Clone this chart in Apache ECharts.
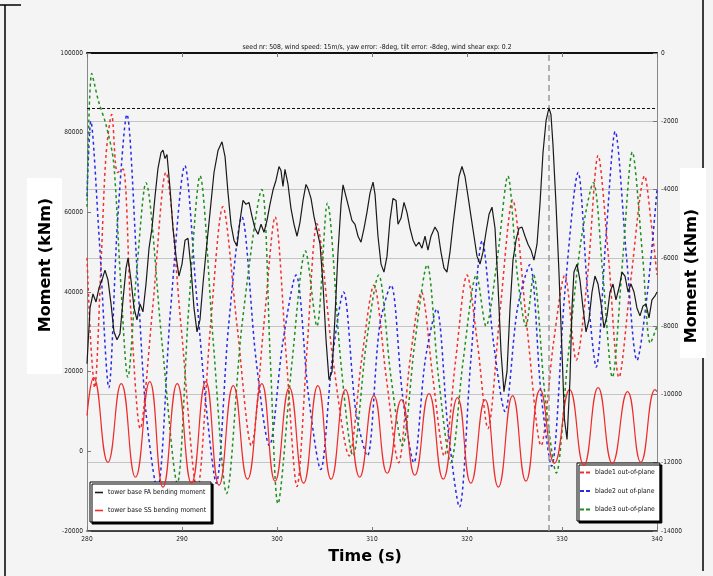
<!DOCTYPE html>
<html>
<head>
<meta charset="utf-8">
<script src="https://cdn.jsdelivr.net/npm/echarts@6/dist/echarts.min.js"></script>
<style>
  html, body { margin: 0; padding: 0; background: #f4f4f4; }
  #chart { width: 713px; height: 576px; }
</style>
</head>
<body>
<div id="chart"></div>
<script>
// Simulation case shown in the title
const caseTitle = 'seed nr: 508, wind speed: 15m/s, yaw error: -8deg, tilt error: -8deg, wind shear exp: 0.2';

// Axis ranges / ticks
const timeTicks = [280, 290, 300, 310, 320, 330, 340];
const towerTicks = [-20000, 0, 20000, 40000, 60000, 80000, 100000];
const bladeTicks = [-14000, -12000, -10000, -8000, -6000, -4000, -2000, 0];

// Series names
const towerNames = ['tower base FA bending moment', 'tower base SS bending moment'];
const bladeNames = ['blade1 out-of-plane', 'blade2 out of-plane', 'blade3 out-of-plane'];

// Tower base fore-aft bending moment [time s, kNm]
const towerFA = [
  [280.00,22000],[280.32,36000],[280.63,39500],[280.95,37500],[281.26,41000],[281.58,43000],[281.89,45500],
  [282.21,43000],[282.53,37000],[282.84,30000],[283.16,28000],[283.47,29500],[283.79,38000],[284.11,46000],
  [284.32,48500],[284.63,43000],[284.95,36000],[285.26,33000],[285.58,37000],[285.89,35000],[286.21,42000],
  [286.53,51000],[286.84,56000],[287.16,64000],[287.47,71000],[287.79,75000],[288.00,75600],[288.21,73500],
  [288.42,74500],[288.74,66000],[289.05,56000],[289.37,49000],[289.68,44000],[290.00,47000],[290.32,53000],
  [290.63,53500],[290.95,46000],[291.26,36000],[291.58,30000],[291.89,33000],[292.21,42000],[292.53,50000],
  [292.95,60000],[293.37,70000],[293.79,75500],[294.21,77700],[294.53,74000],[294.84,65000],[295.16,57000],
  [295.47,53000],[295.79,51500],[296.11,58000],[296.42,63000],[296.74,62000],[297.05,62500],[297.37,59000],
  [297.68,56000],[298.00,54500],[298.32,57000],[298.63,55000],[298.95,58000],[299.26,62000],[299.58,65600],
  [299.89,68000],[300.21,71500],[300.42,70500],[300.63,66500],[300.84,70800],[301.16,67000],[301.47,61000],
  [301.79,57000],[302.11,54000],[302.42,57500],[302.74,63000],[303.05,67000],[303.26,66000],[303.58,63500],
  [303.89,59000],[304.21,55500],[304.53,52000],[304.84,42000],[305.16,28000],[305.47,18000],[305.79,20000],
  [306.11,34000],[306.42,50000],[306.74,62000],[306.95,66900],[307.26,64000],[307.58,61000],[307.89,58000],
  [308.21,57000],[308.53,54000],[308.84,52500],[309.16,56000],[309.47,60000],[309.79,64800],[310.11,67600],
  [310.32,64500],[310.63,54000],[310.95,47000],[311.26,45000],[311.58,49000],[311.89,58000],[312.21,63500],
  [312.53,63000],[312.74,57000],[313.05,58500],[313.37,62500],[313.68,60000],[314.00,56000],[314.32,53000],
  [314.63,51500],[314.95,52500],[315.26,51000],[315.58,54000],[315.89,50500],[316.21,54000],[316.63,56300],
  [316.95,55000],[317.26,50000],[317.58,46000],[317.89,45000],[318.21,50000],[318.53,57000],[318.84,63000],
  [319.16,69000],[319.47,71500],[319.79,69000],[320.11,64000],[320.42,59000],[320.74,54000],[321.05,49000],
  [321.37,47000],[321.68,50000],[322.00,55000],[322.32,59500],[322.63,61300],[322.95,56000],[323.26,42000],
  [323.58,25000],[323.89,15000],[324.21,20000],[324.53,36000],[324.84,48000],[325.16,53000],[325.47,56000],
  [325.79,56300],[326.11,54000],[326.42,52000],[326.74,50500],[327.05,48000],[327.37,52000],[327.68,62000],
  [328.00,75000],[328.32,83000],[328.63,86200],[328.84,84500],[329.05,77000],[329.37,62000],[329.68,45000],
  [330.00,25000],[330.26,8000],[330.53,3000],[330.84,18000],[331.05,36000],[331.26,45000],[331.58,47000],
  [331.89,43000],[332.21,36000],[332.53,30000],[332.84,33000],[333.16,40000],[333.47,44000],[333.79,42000],
  [334.11,37000],[334.42,31000],[334.74,34000],[335.05,40000],[335.37,42000],[335.68,38000],[336.00,41000],
  [336.32,45000],[336.63,44000],[336.95,40000],[337.26,42000],[337.58,40000],[337.89,36000],[338.21,34000],
  [338.53,36500],[338.84,37000],[339.16,33500],[339.47,38000],[339.79,39000],[340.00,40000]
];

// Tower base side-side bending moment: turning points [time s, kNm]
const towerSS = [
  [280.0,9000],[280.7,18500],[282.2,-2750],[283.6,17000],[285.1,-6500],[286.6,17500],[288.0,-9000],
  [289.5,17000],[291.0,-8000],[292.5,17500],[293.9,-8500],[295.4,16500],[296.9,-7000],[298.4,17000],
  [299.8,-7500],[301.3,16000],[302.8,-8000],[304.3,16500],[305.7,-7000],[307.2,15500],[308.7,-6500],
  [310.2,14000],[311.6,-5500],[313.1,13000],[314.5,-6000],[316.0,14500],[317.5,-7000],[319.0,13500],
  [320.4,-8000],[321.9,13000],[323.3,-9000],[324.8,14000],[326.2,-7500],[327.7,15500],[329.2,-3000],
  [330.8,15500],[332.3,-3500],[333.8,16000],[335.3,-3000],[336.9,15000],[338.3,-2750],[339.8,15500],
  [340.0,15000]
];

// Blade out-of-plane moments [time s, kNm]
const blade1 = [
  [280.0,-6000],[280.4,-8500],[280.8,-9800],[281.5,-6000],[282.0,-3000],[282.6,-1800],[283.2,-3500],
  [283.8,-3400],[284.6,-7500],[285.6,-11000],[286.9,-7500],[288.3,-3500],[289.9,-8000],[291.6,-12800],
  [293.0,-8000],[294.3,-4500],[295.8,-8000],[297.3,-11500],[298.6,-8000],[299.8,-4800],[301.0,-9000],
  [302.1,-12700],[303.2,-8500],[304.2,-5000],[305.9,-9000],[307.6,-11800],[308.9,-9000],[310.2,-6800],
  [311.5,-9500],[312.8,-12000],[314.0,-9000],[315.2,-7000],[316.4,-9500],[317.6,-11800],[318.8,-9000],
  [320.0,-6500],[321.1,-8500],[322.2,-11000],[323.5,-7500],[324.8,-4300],[326.3,-8000],[327.8,-11500],
  [329.1,-8500],[330.3,-6500],[331.5,-9000],[332.7,-6500],[333.8,-3000],[334.9,-6000],[336.0,-9500],
  [337.3,-6500],[338.7,-3600],[339.4,-5000],[340.0,-6500]
];
const blade2 = [
  [280.0,-4200],[280.4,-2000],[281.3,-5500],[282.3,-9800],[283.2,-5000],[284.2,-1800],[285.3,-6500],
  [286.2,-10500],[287.4,-12800],[288.8,-7500],[290.3,-3300],[291.5,-7000],[292.6,-10500],[293.6,-12600],
  [294.9,-8000],[296.3,-4800],[297.8,-9000],[299.2,-11500],[300.6,-8500],[302.0,-6500],[303.3,-10000],
  [304.6,-12200],[305.8,-9000],[307.0,-7000],[308.3,-10500],[309.5,-11800],[310.8,-8000],[312.0,-6800],
  [313.2,-10000],[314.4,-12000],[315.6,-9000],[316.8,-7500],[318.0,-11000],[319.2,-13300],[320.4,-9000],
  [321.6,-5500],[322.8,-8500],[324.0,-10500],[325.3,-7500],[326.6,-6200],[327.8,-10000],[328.9,-12100],
  [330.3,-7000],[331.7,-3500],[332.7,-7000],[333.6,-9200],[334.6,-5500],[335.6,-2300],[336.8,-6000],
  [337.9,-9000],[339.0,-7000],[340.0,-4000]
];
const blade3 = [
  [280.0,-4500],[280.5,-600],[281.2,-1400],[282.0,-2100],[282.8,-3200],[283.5,-6500],[284.3,-9500],
  [285.2,-6500],[286.2,-3800],[287.9,-8500],[289.5,-12600],[290.7,-7500],[291.9,-3600],[293.3,-8500],
  [294.7,-12900],[296.3,-8000],[298.4,-4000],[299.3,-9000],[300.1,-13200],[301.6,-9000],[303.0,-5800],
  [304.2,-8000],[305.3,-4400],[306.7,-9000],[308.0,-11800],[309.4,-8500],[310.7,-6500],[312.0,-9500],
  [313.2,-11500],[314.5,-8500],[315.8,-6200],[317.0,-9500],[318.3,-12000],[319.6,-9000],[321.0,-6500],
  [322.0,-8000],[323.2,-6000],[324.3,-3600],[325.3,-6500],[326.2,-8000],[327.0,-6500],[328.2,-10000],
  [329.4,-12300],[330.6,-9000],[332.0,-5500],[333.3,-3800],[334.3,-6500],[335.3,-9500],[336.4,-6000],
  [337.4,-2900],[338.5,-6000],[339.3,-8500],[340.0,-8000]
];

// Peak of the fore-aft moment, marked with a dashed cross-hair
const faPeak = towerFA.reduce((m, p) => (p[1] > m[1] ? p : m), towerFA[0]);

const smallFont = "'Liberation Sans Narrow','DejaVu Sans Condensed','Arial Narrow',sans-serif";
const bigFont = "'DejaVu Sans',Verdana,sans-serif";

// legend keys: a solid stroke and a two-dash stroke
const solidKey = 'path://M0,0h10v2h-10z';
const dashKey = 'path://M0,0h4v2h-4zM6,0h4v2h-4z';

const chart = echarts.init(document.getElementById('chart'), null, { renderer: 'canvas' });

const plain = v => String(v);
const tickLabel = { fontFamily: smallFont, fontSize: 6.6, color: '#222', formatter: plain };
const legendText = { fontFamily: smallFont, fontSize: 6.8, color: '#111' };

chart.setOption({
  animation: false,
  backgroundColor: '#f4f4f4',
  title: {
    text: caseTitle,
    left: 372, top: 39, textAlign: 'center',
    textStyle: { fontFamily: smallFont, fontSize: 6.8, fontWeight: 'normal', color: '#111' }
  },
  grid: { left: 87, right: 56, top: 53, bottom: 45, show: true, backgroundColor: '#f4f4f4', borderWidth: 0 },
  xAxis: [{
    type: 'value', min: timeTicks[0], max: timeTicks[timeTicks.length - 1], interval: 10,
    axisLine: { onZero: false, lineStyle: { color: '#111', width: 1.5 } },
    axisTick: { inside: true, length: 4, lineStyle: { color: '#777' } },
    axisLabel: Object.assign({ margin: 5 }, tickLabel),
    splitLine: { show: false }
  }, {
    type: 'value', position: 'top', min: timeTicks[0], max: timeTicks[timeTicks.length - 1], interval: 10,
    axisLine: { onZero: false, lineStyle: { color: '#111', width: 2 } },
    axisTick: { inside: true, length: 4, lineStyle: { color: '#777' } },
    axisLabel: { show: false }, splitLine: { show: false }
  }],
  yAxis: [{
    type: 'value', position: 'left', min: towerTicks[0], max: towerTicks[towerTicks.length - 1], interval: 20000,
    axisLine: { show: true, onZero: false, lineStyle: { color: '#888', width: 1 } },
    axisTick: { show: true, inside: true, length: 4, lineStyle: { color: '#777' } },
    axisLabel: Object.assign({ margin: 4 }, tickLabel),
    splitLine: { show: false }
  }, {
    type: 'value', position: 'right', min: bladeTicks[0], max: bladeTicks[bladeTicks.length - 1], interval: 2000,
    axisLine: { show: true, onZero: false, lineStyle: { color: '#888', width: 1 } },
    axisTick: { show: true, inside: true, length: 4, lineStyle: { color: '#777' } },
    axisLabel: Object.assign({ margin: 4 }, tickLabel),
    splitLine: { show: true, lineStyle: { color: '#c4c4c4', width: 1 } }
  }],
  legend: [{
    data: towerNames.map(n => ({ name: n, icon: solidKey })),
    orient: 'vertical', left: 90, top: 482,
    padding: [7, 5, 8, 5], itemGap: 11, itemWidth: 8, itemHeight: 2,
    backgroundColor: '#fff', borderColor: '#000', borderWidth: 1,
    shadowColor: '#000', shadowBlur: 0, shadowOffsetX: 2, shadowOffsetY: 2,
    textStyle: legendText
  }, {
    data: bladeNames.map(n => ({ name: n, icon: dashKey })),
    orient: 'vertical', left: 577, top: 463,
    padding: [6, 5, 8, 3], itemGap: 11.5, itemWidth: 10, itemHeight: 2,
    backgroundColor: '#fff', borderColor: '#000', borderWidth: 1,
    shadowColor: '#000', shadowBlur: 0, shadowOffsetX: 2, shadowOffsetY: 2,
    textStyle: legendText
  }],
  series: [{
    name: bladeNames[0], type: 'line', yAxisIndex: 1, data: blade1, symbol: 'none',
    smooth: 0.3, lineStyle: { color: '#f03030', width: 1.5, type: [3, 3] }, itemStyle: { color: '#f03030' }, z: 3
  }, {
    name: bladeNames[1], type: 'line', yAxisIndex: 1, data: blade2, symbol: 'none',
    smooth: 0.3, lineStyle: { color: '#2a2ae6', width: 1.5, type: [3, 3] }, itemStyle: { color: '#2a2ae6' }, z: 3
  }, {
    name: bladeNames[2], type: 'line', yAxisIndex: 1, data: blade3, symbol: 'none',
    smooth: 0.3, lineStyle: { color: '#1f8f1f', width: 1.5, type: [3, 3] }, itemStyle: { color: '#1f8f1f' }, z: 3
  }, {
    name: towerNames[1], type: 'line', yAxisIndex: 0, data: towerSS, symbol: 'none',
    smooth: 0.5, lineStyle: { color: '#ee2a2a', width: 1.2 }, itemStyle: { color: '#ee2a2a' }, z: 4
  }, {
    name: towerNames[0], type: 'line', yAxisIndex: 0, data: towerFA, symbol: 'none',
    lineStyle: { color: '#1a1a1a', width: 1.2 }, itemStyle: { color: '#1a1a1a' }, z: 5,
    markLine: {
      silent: true, symbol: ['none', 'none'], label: { show: false }, animation: false,
      data: [
        { yAxis: faPeak[1], lineStyle: { color: '#111', width: 1.2, type: [3, 2] } },
        { xAxis: faPeak[0], lineStyle: { color: '#999', width: 1.5, type: [6, 4] } }
      ]
    }
  }],
  graphic: [
    // label backdrops
    { type: 'rect', left: 27, top: 178, shape: { width: 35, height: 196 }, style: { fill: '#fff' }, z: 1 },
    { type: 'rect', left: 680, top: 168, shape: { width: 26, height: 190 }, style: { fill: '#fff' }, z: 1 },
    { type: 'text', x: 46, y: 265, rotation: Math.PI / 2, z: 2,
      style: { text: 'Moment (kNm)', font: 'bold 16px ' + bigFont, fill: '#000', textAlign: 'center', textVerticalAlign: 'middle' } },
    { type: 'text', x: 692, y: 276, rotation: Math.PI / 2, z: 2,
      style: { text: 'Moment (kNm)', font: 'bold 16px ' + bigFont, fill: '#000', textAlign: 'center', textVerticalAlign: 'middle' } },
    { type: 'text', x: 365, y: 557, z: 2,
      style: { text: 'Time (s)', font: 'bold 16px ' + bigFont, fill: '#000', textAlign: 'center', textVerticalAlign: 'middle' } },
    // page frame
    { type: 'line', shape: { x1: 5, y1: 5, x2: 5, y2: 576 }, style: { stroke: '#000', lineWidth: 1.5 } },
    { type: 'line', shape: { x1: 0, y1: 5, x2: 21, y2: 5 }, style: { stroke: '#000', lineWidth: 1.5 } },
    { type: 'line', shape: { x1: 703, y1: 0, x2: 703, y2: 571 }, style: { stroke: '#000', lineWidth: 1.5 } }
  ]
});
</script>
</body>
</html>
